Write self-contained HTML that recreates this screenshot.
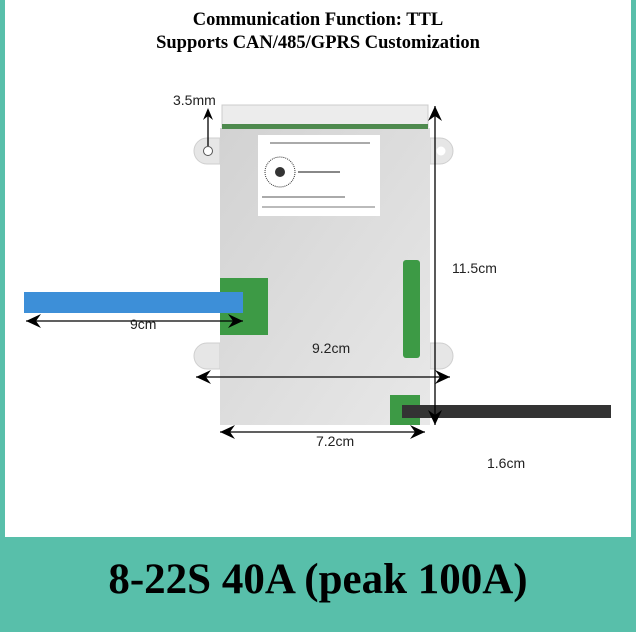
<!DOCTYPE html>
<html><head><meta charset="utf-8"><style>
html,body{margin:0;padding:0;}
body{width:636px;height:632px;overflow:hidden;background:#58bfaa;position:relative;font-family:"Liberation Sans",sans-serif;}
.in{position:absolute;left:5px;top:0;width:626px;height:537px;background:#fff;}
.t{position:absolute;font-family:"Liberation Serif",serif;font-weight:bold;color:#000;white-space:nowrap;}
.l{position:absolute;font-family:"Liberation Sans",sans-serif;font-size:14px;color:#222;white-space:nowrap;}
</style></head><body>
<div class="in"></div>
<div class="t" style="left:0;width:636px;text-align:center;top:9px;font-size:18.5px;line-height:23px;">Communication Function: TTL<br>Supports CAN/485/GPRS Customization</div>
<svg style="position:absolute;left:0;top:0" width="636" height="537">
<defs><linearGradient id="g" x1="0" y1="0" x2="1" y2="1"><stop offset="0" stop-color="#d2d2d2"/><stop offset="1" stop-color="#e8e8e8"/></linearGradient></defs>
<g fill="#e6e6e6" stroke="#cfcfcf">
<path d="M220 138 H207 a13 13 0 0 0 0 26 H220Z"/>
<path d="M430 138 H440 a13 13 0 0 1 0 26 H430Z"/>
<path d="M220 343 H207 a13 13 0 0 0 0 26 H220Z"/>
<path d="M430 343 H440 a13 13 0 0 1 0 26 H430Z"/>
</g>
<circle cx="208" cy="151" r="4.5" fill="#fff" stroke="#555"/>
<circle cx="441" cy="151" r="4.5" fill="#fff"/>
<rect x="220" y="128" width="210" height="297" fill="url(#g)"/>
<rect x="222" y="105" width="206" height="22" fill="#ececec" stroke="#ccc"/>
<rect x="222" y="124" width="206" height="5" fill="#4e8a4e"/>
<rect x="258" y="135" width="122" height="81" fill="#fff"/>
<circle cx="280" cy="172" r="15" fill="#fff" stroke="#333" stroke-dasharray="1 1"/>
<circle cx="280" cy="172" r="5" fill="#333"/>
<line x1="298" y1="172" x2="340" y2="172" stroke="#888" stroke-width="2"/>
<line x1="262" y1="197" x2="345" y2="197" stroke="#aaa" stroke-width="2"/>
<line x1="262" y1="207" x2="375" y2="207" stroke="#bbb" stroke-width="2"/>
<line x1="270" y1="143" x2="370" y2="143" stroke="#aaa" stroke-width="2"/>
<rect x="220" y="278" width="48" height="57" fill="#3d9a45"/>
<rect x="403" y="260" width="17" height="98" rx="3" fill="#3d9a45"/>
<rect x="390" y="395" width="30" height="30" fill="#3d9a45"/>
<rect x="24" y="292" width="219" height="21" fill="#3d8fd8"/>
<rect x="402" y="405" width="209" height="13" fill="#333"/>
<g stroke="#000" stroke-width="1.3">
<line x1="26" y1="321" x2="243" y2="321"/>
<line x1="196" y1="377" x2="450" y2="377"/>
<line x1="220" y1="432" x2="425" y2="432"/>
<line x1="435" y1="106" x2="435" y2="425"/>
<line x1="208" y1="146" x2="208" y2="110"/>
</g>
<g fill="#000">
<path d="M26 321 L41 314 L36 321 L41 328Z M243 321 L228 314 L233 321 L228 328Z"/>
<path d="M196 377 L211 370 L206 377 L211 384Z M450 377 L435 370 L440 377 L435 384Z"/>
<path d="M220 432 L235 425 L230 432 L235 439Z M425 432 L410 425 L415 432 L410 439Z"/>
<path d="M435 106 L428 121 L435 116 L442 121Z M435 425 L428 410 L435 415 L442 410Z"/>
<path d="M208 108 L203 120 L208 116 L213 120Z"/>
</g>
</svg>
<div class="l" style="left:173px;top:92px;">3.5mm</div>
<div class="l" style="left:452px;top:260px;">11.5cm</div>
<div class="l" style="left:130px;top:316px;">9cm</div>
<div class="l" style="left:312px;top:340px;">9.2cm</div>
<div class="l" style="left:316px;top:433px;">7.2cm</div>
<div class="l" style="left:487px;top:455px;">1.6cm</div>
<div class="t" style="left:0;width:636px;text-align:center;top:554px;font-size:43px;line-height:52px;">8-22S 40A (peak 100A)</div>
</body></html>
